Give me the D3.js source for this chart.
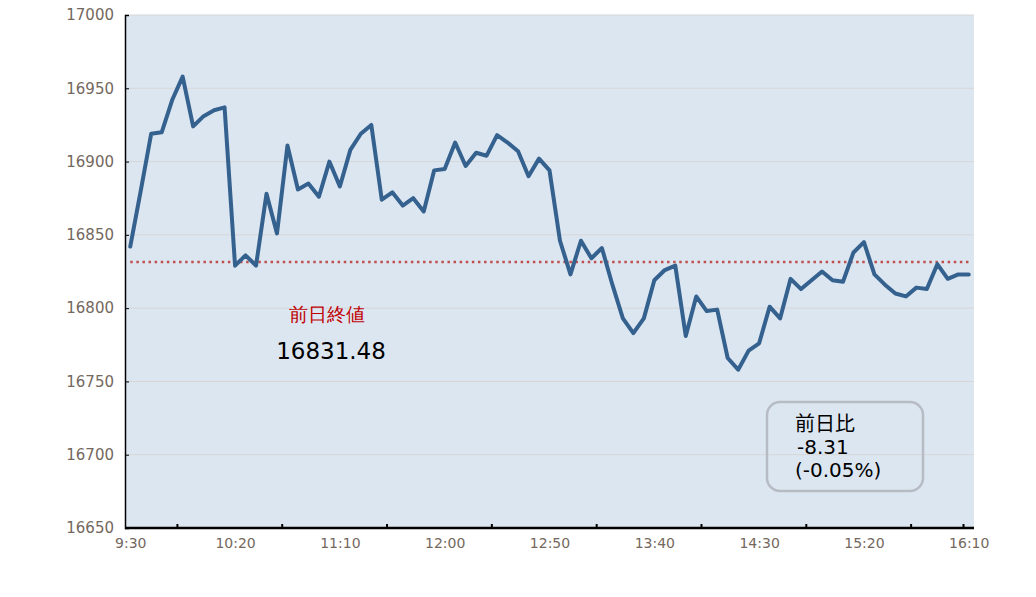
<!DOCTYPE html>
<html><head><meta charset="utf-8">
<script src="https://cdn.jsdelivr.net/npm/d3@7"></script>
<style>
html,body{margin:0;padding:0;background:#fff;}
svg text{font-family:"DejaVu Sans",sans-serif;}
</style></head>
<body><svg id="c" width="1036" height="597"></svg>
<script>
const times = ["9:30","9:35","9:40","9:45","9:50","9:55","10:00","10:05","10:10","10:15",
"10:20","10:25","10:30","10:35","10:40","10:45","10:50","10:55","11:00","11:05",
"11:10","11:15","11:20","11:25","11:30","11:35","11:40","11:45","11:50","11:55",
"12:00","12:05","12:10","12:15","12:20","12:25","12:30","12:35","12:40","12:45",
"12:50","12:55","13:00","13:05","13:10","13:15","13:20","13:25","13:30","13:35",
"13:40","13:45","13:50","13:55","14:00","14:05","14:10","14:15","14:20","14:25",
"14:30","14:35","14:40","14:45","14:50","14:55","15:00","15:05","15:10","15:15",
"15:20","15:25","15:30","15:35","15:40","15:45","15:50","15:55","16:00","16:05","16:10"];
const values = [16842,16880,16919,16920,16942,16958,16924,16931,16935,16937,
16829,16836,16829,16878,16851,16911,16881,16885,16876,16900,
16883,16908,16919,16925,16874,16879,16870,16875,16866,16894,
16895,16913,16897,16906,16904,16918,16913,16907,16890,16902,
16894,16846,16823,16846,16834,16841,16816,16793,16783,16793,
16819,16826,16829,16781,16808,16798,16799,16766,16758,16771,
16776,16801,16793,16820,16813,16819,16825,16819,16818,16838,
16845,16823,16816,16810,16808,16814,16813,16830,16820,16823,16823];
const xLabels = ["9:30","10:20","11:10","12:00","12:50","13:40","14:30","15:20","16:10"];
// minor ticks sit between these slots and the next one
const xTickAfter = ["9:50","10:40","11:30","12:20","13:10","14:00","14:50","15:40","16:05"];
const yTicks = [16650,16700,16750,16800,16850,16900,16950,17000];
const prevClose = 16831.48;
const prevCloseLabel = "前日終値";
const prevCloseText = "16831.48";
const diffLines = ["前日比","-8.31","(-0.05%)"];

const svg = d3.select("#c");
const L=125, R=974, T=15, B=528;
const x = d3.scalePoint().domain(times).range([L,R]).padding(0.5);
const y = d3.scaleLinear().domain([16650,17000]).range([B,T]);
const step = x.step();

svg.append("rect").attr("x",L).attr("y",T).attr("width",R-L).attr("height",B-T).attr("fill","#dce6f1");

// grid
svg.append("g").selectAll("line").data(yTicks.slice(1)).join("line")
  .attr("x1",L).attr("x2",R).attr("y1",d=>y(d)).attr("y2",d=>y(d))
  .attr("stroke","#d6d6d6").attr("stroke-width",1);

// reference line
svg.append("line").attr("x1",x(times[0])).attr("x2",x(times[times.length-1]))
  .attr("y1",y(prevClose)).attr("y2",y(prevClose))
  .attr("stroke","#c0504d").attr("stroke-width",2.5).attr("stroke-dasharray","2.5 3.6");

// data line
svg.append("path").datum(values)
  .attr("d",d3.line().x((d,i)=>x(times[i])).y(d=>y(d)))
  .attr("fill","none").attr("stroke","#35618f").attr("stroke-width",4)
  .attr("stroke-linejoin","round").attr("stroke-linecap","round");

// y axis
const yAxis = svg.append("g").attr("transform",`translate(${L},0)`)
  .call(d3.axisLeft(y).tickValues(yTicks).tickSize(-4).tickPadding(11).tickFormat(d3.format("d")));
yAxis.select(".domain").attr("stroke","#000").attr("stroke-width",1.5);
yAxis.selectAll(".tick line").attr("stroke","#000");
yAxis.selectAll("text").attr("font-size",15).attr("fill","#74685e").attr("font-family","DejaVu Sans");

// x axis
const xAxis = svg.append("g").attr("transform",`translate(0,${B})`)
  .call(d3.axisBottom(x).tickValues(xLabels).tickSize(0).tickPadding(10));
xAxis.select(".domain").remove();
xAxis.selectAll("text").attr("font-size",14).attr("fill","#74685e").attr("font-family","DejaVu Sans");
svg.append("line").attr("x1",L).attr("x2",R).attr("y1",B).attr("y2",B).attr("stroke","#000").attr("stroke-width",2.5);
svg.append("g").selectAll("line").data(xTickAfter).join("line")
  .attr("x1",d=>x(d)+step/2).attr("x2",d=>x(d)+step/2)
  .attr("y1",B).attr("y2",B-4).attr("stroke","#000").attr("stroke-width",2);

// previous close annotation
svg.append("text").attr("x",327).attr("y",321).attr("text-anchor","middle")
  .attr("font-size",19).attr("fill","#c00000").attr("font-family","Noto Sans CJK JP").text(prevCloseLabel);
svg.append("text").attr("x",331).attr("y",359).attr("text-anchor","middle")
  .attr("font-size",23).attr("fill","#000").text(prevCloseText);

// diff box
svg.append("rect").attr("x",767).attr("y",402).attr("width",156).attr("height",89).attr("rx",13)
  .attr("fill","none").attr("stroke","#b7bcc4").attr("stroke-width",2.5);
const tb = svg.append("text").attr("x",795).attr("y",431).attr("font-size",20).attr("fill","#000");
diffLines.forEach((s,i)=>{
  tb.append("tspan").attr("x",i===1?797:795).attr("dy",i===0?0:23).text(s)
    .attr("font-family",i===0?"Noto Sans CJK JP":"DejaVu Sans");
});
</script></body></html>
